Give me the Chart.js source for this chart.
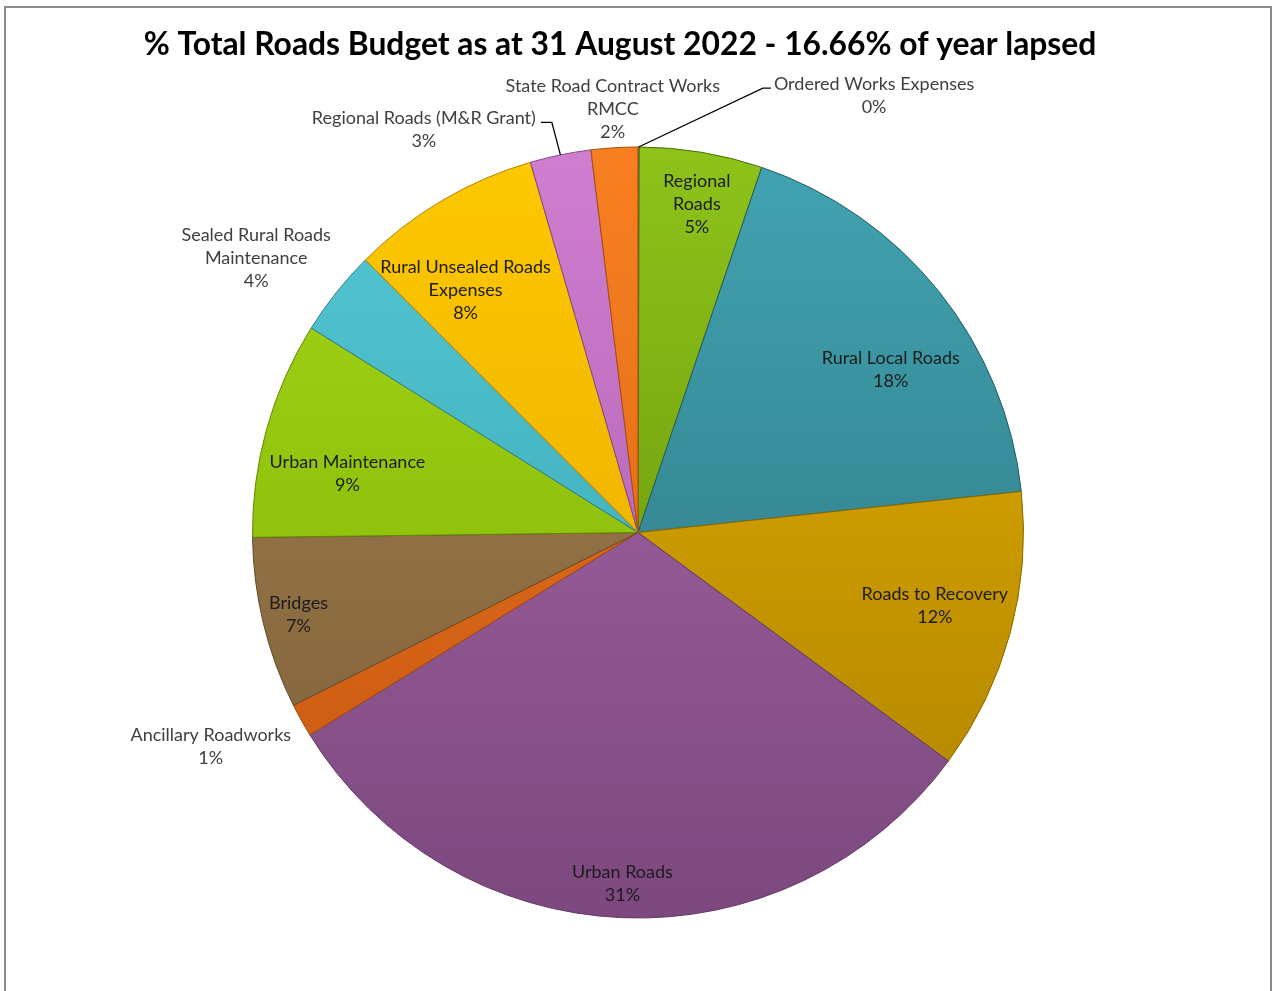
<!DOCTYPE html>
<html>
<head>
<meta charset="utf-8">
<script src="https://cdn.jsdelivr.net/npm/chart.js@4/dist/chart.umd.min.js"></script>
<style>
  html, body { margin: 0; padding: 0; background: #fff; }
  #wrap { width: 1274px; height: 991px; }
</style>
</head>
<body>
<div id="wrap"><canvas id="budgetChart" width="1274" height="991"></canvas></div>
<script>
// Data (share of total roads budget, %)
const categories = [
    ['Ordered Works Expenses'],
    ['Regional', 'Roads'],
    ['Rural Local Roads'],
    ['Roads to Recovery'],
    ['Urban Roads'],
    ['Ancillary Roadworks'],
    ['Bridges'],
    ['Urban Maintenance'],
    ['Sealed Rural Roads', 'Maintenance'],
    ['Rural Unsealed Roads', 'Expenses'],
    ['Regional Roads (M&R Grant)'],
    ['State Road Contract Works', 'RMCC']
];
const budgetShare = [0.05, 5.15, 18.1, 11.8, 31.1, 1.4, 7.2, 9.1, 3.6, 8.0, 2.55, 1.95];
const chartTitle = '% Total Roads Budget as at 31 August 2022 - 16.66% of year lapsed';

// Slice colours (top / bottom of the shading)
const topColors = ['#5b8fd0', '#8ec31a', '#42a4b2', '#e4b000', '#aa6aab', '#ec7422', '#a48252', '#a4d816', '#54c8d4', '#fdc900', '#d07fd0', '#f88022'];
const bottomColors = ['#3a6aa8', '#5e8a08', '#2b6e79', '#ae8200', '#7c487e', '#c65810', '#7d5e36', '#7cac06', '#38a0ae', '#e4a400', '#a658a6', '#d6600e'];
const edgeColors = ['#2f5686', '#4a6e06', '#225a62', '#8a6800', '#623864', '#9e460c', '#624828', '#618804', '#2c7e88', '#b68200', '#844484', '#aa4c0a'];

// Label placement: angle shift from slice middle (deg) and distance as fraction of radius
const labelPlace = [
    { shift: 28.3, dist: 1.288, leader: 'left', outside: true },
    { shift: 0.7, dist: 0.866 },
    { shift: 5.9, dist: 0.78 },
    { shift: -1.3, dist: 0.793 },
    { shift: 0.2, dist: 0.913 },
    { shift: 2.5, dist: 1.24, outside: true },
    { shift: 0.1, dist: 0.906 },
    { shift: -4.2, dist: 0.769 },
    { shift: -2.8, dist: 1.22, outside: true },
    { shift: -4.8, dist: 0.772 },
    { shift: -16.4, dist: 1.183, leader: 'right', outside: true },
    { shift: 0.1, dist: 1.10, outside: true }
];

const labelFont = '18px Lato';
const lineHeight = 23;

function sliceGradient(context) {
    const chart = context.chart;
    const area = chart.chartArea;
    const i = context.dataIndex;
    if (!area) return topColors[i];
    const g = chart.ctx.createLinearGradient(0, area.top, 0, area.bottom);
    g.addColorStop(0, topColors[i]);
    g.addColorStop(1, bottomColors[i]);
    return g;
}

// Function to draw frame, title and slice labels
const pieLabels = {
    id: 'pieLabels',
    beforeDraw(chart) {
        const ctx = chart.ctx;
        ctx.save();
        ctx.strokeStyle = '#8c8c8c';
        ctx.lineWidth = 2;
        ctx.strokeRect(5, 7, 1266, 1010);
        ctx.restore();
    },
    afterDatasetsDraw(chart) {
        const ctx = chart.ctx;
        const meta = chart.getDatasetMeta(0);
        const total = budgetShare.reduce((a, b) => a + b, 0);

        ctx.save();
        ctx.font = 'bold 31.8px Lato';
        ctx.fillStyle = '#000';
        ctx.textAlign = 'center';
        ctx.textBaseline = 'middle';
        ctx.fillText(chartTitle, 620, 45);

        ctx.font = labelFont;
        meta.data.forEach((arc, i) => {
            const p = arc.getProps(['x', 'y', 'startAngle', 'endAngle', 'outerRadius'], true);
            const mid = (p.startAngle + p.endAngle) / 2;
            const place = labelPlace[i];
            const a = mid + place.shift * Math.PI / 180;
            const cx = p.x + Math.cos(a) * p.outerRadius * place.dist;
            const cy = p.y + Math.sin(a) * p.outerRadius * place.dist;
            const lines = categories[i].concat([Math.round(budgetShare[i] / total * 100) + '%']);
            const y0 = cy - (lines.length - 1) * lineHeight / 2;

            if (place.leader) {
                const w = ctx.measureText(lines[0]).width;
                const sx = p.x + Math.cos(mid) * p.outerRadius;
                const sy = p.y + Math.sin(mid) * p.outerRadius;
                let ex, elbow;
                if (place.leader === 'left') {
                    ex = cx - w / 2 - 3;
                    elbow = ex - 8;
                } else {
                    ex = cx + w / 2 + 5;
                    elbow = ex + 11;
                }
                ctx.beginPath();
                ctx.strokeStyle = '#000';
                ctx.lineWidth = 1.3;
                ctx.moveTo(sx, sy);
                ctx.lineTo(elbow, y0 + 4);
                ctx.lineTo(ex, y0 + 4);
                ctx.stroke();
            }

            ctx.fillStyle = place.outside ? '#404040' : '#1c1c1c';
            lines.forEach((t, k) => ctx.fillText(t, cx, y0 + k * lineHeight));
        });
        ctx.restore();
    }
};

new Chart(document.getElementById('budgetChart'), {
    type: 'pie',
    data: {
        labels: categories.map(c => c.join(' ')),
        datasets: [{
            data: budgetShare,
            backgroundColor: sliceGradient,
            borderColor: edgeColors,
            borderWidth: 1
        }]
    },
    options: {
        responsive: false,
        animation: false,
        layout: { padding: { left: 252, right: 250, top: 146, bottom: 72 } },
        plugins: {
            legend: { display: false },
            tooltip: { enabled: false },
            title: { display: false }
        }
    },
    plugins: [pieLabels]
});
</script>
</body>
</html>
